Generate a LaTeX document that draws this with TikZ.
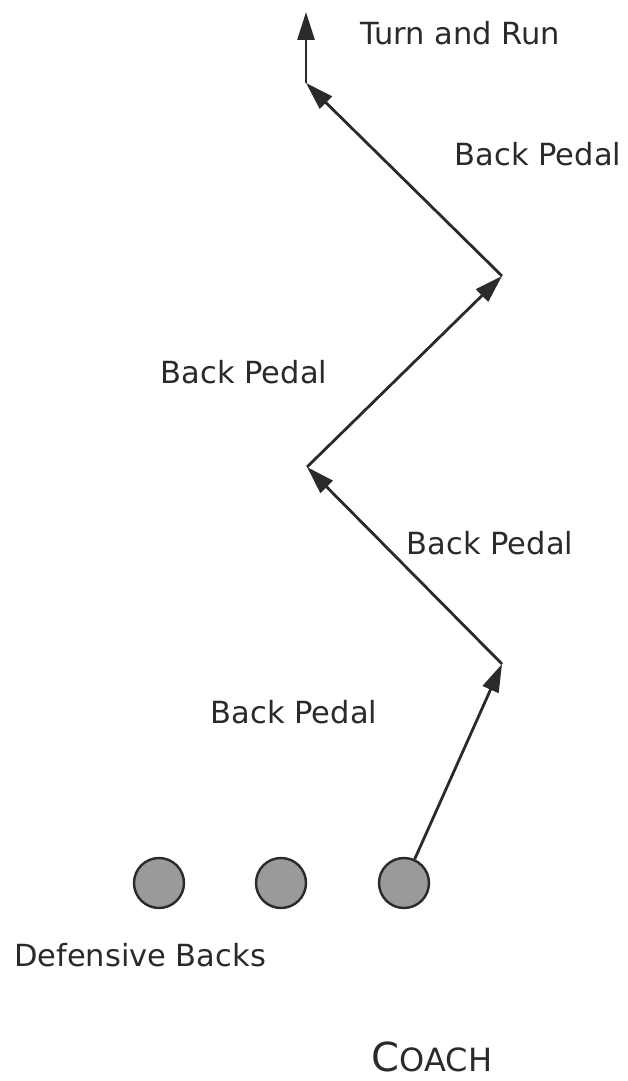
\documentclass[tikz,border=0pt]{standalone}
\usepackage{fontspec}
\setmainfont{DejaVu Sans}
\usetikzlibrary{arrows.meta}
\definecolor{ink}{HTML}{2A2A2A}
\definecolor{dbfill}{HTML}{9A9A9A}
\begin{document}
\begin{tikzpicture}[x=1pt,y=-1pt,
  lbl/.style={text=ink,font=\fontsize{30.5}{31}\selectfont,inner sep=0pt,anchor=center},
  player/.style={circle,draw=ink,line width=2.4pt,fill=dbfill,minimum size=50pt,inner sep=0pt},
  route/.style={draw=ink,line width=2.8pt,-{Triangle[length=28pt,width=17pt]}}]
\useasboundingbox (0,0) rectangle (627,1081);
\node[player] (c1) at (159,883) {};
\node[player] (c2) at (281,883) {};
\node[player] (c3) at (404,883) {};
\coordinate (p1) at (502,664);
\coordinate (p2) at (307,467);
\coordinate (p3) at (502,276);
\coordinate (p4) at (306,83);
\coordinate (p5) at (306,12);
\draw[route] (c3) -- (p1);
\draw[route] (p1) -- (p2);
\draw[route] (p2) -- (p3);
\draw[route] (p3) -- (p4);
\draw[route] (p4) -- (p5);
\node[lbl] (t1) at (460,33) {Turn and Run};
\node[lbl] (t2) at (538,154) {Back Pedal};
\node[lbl] (t3) at (244,372) {Back Pedal};
\node[lbl] (t4) at (490,543) {Back Pedal};
\node[lbl] (t5) at (294,712) {Back Pedal};
\node[lbl] (t6) at (140,955) {Defensive Backs};
\node[lbl,anchor=base] (t7) at (432,1071) {{\fontsize{40}{40}\selectfont C}{\fontsize{32}{32}\selectfont OACH}};
\end{tikzpicture}
\end{document}
